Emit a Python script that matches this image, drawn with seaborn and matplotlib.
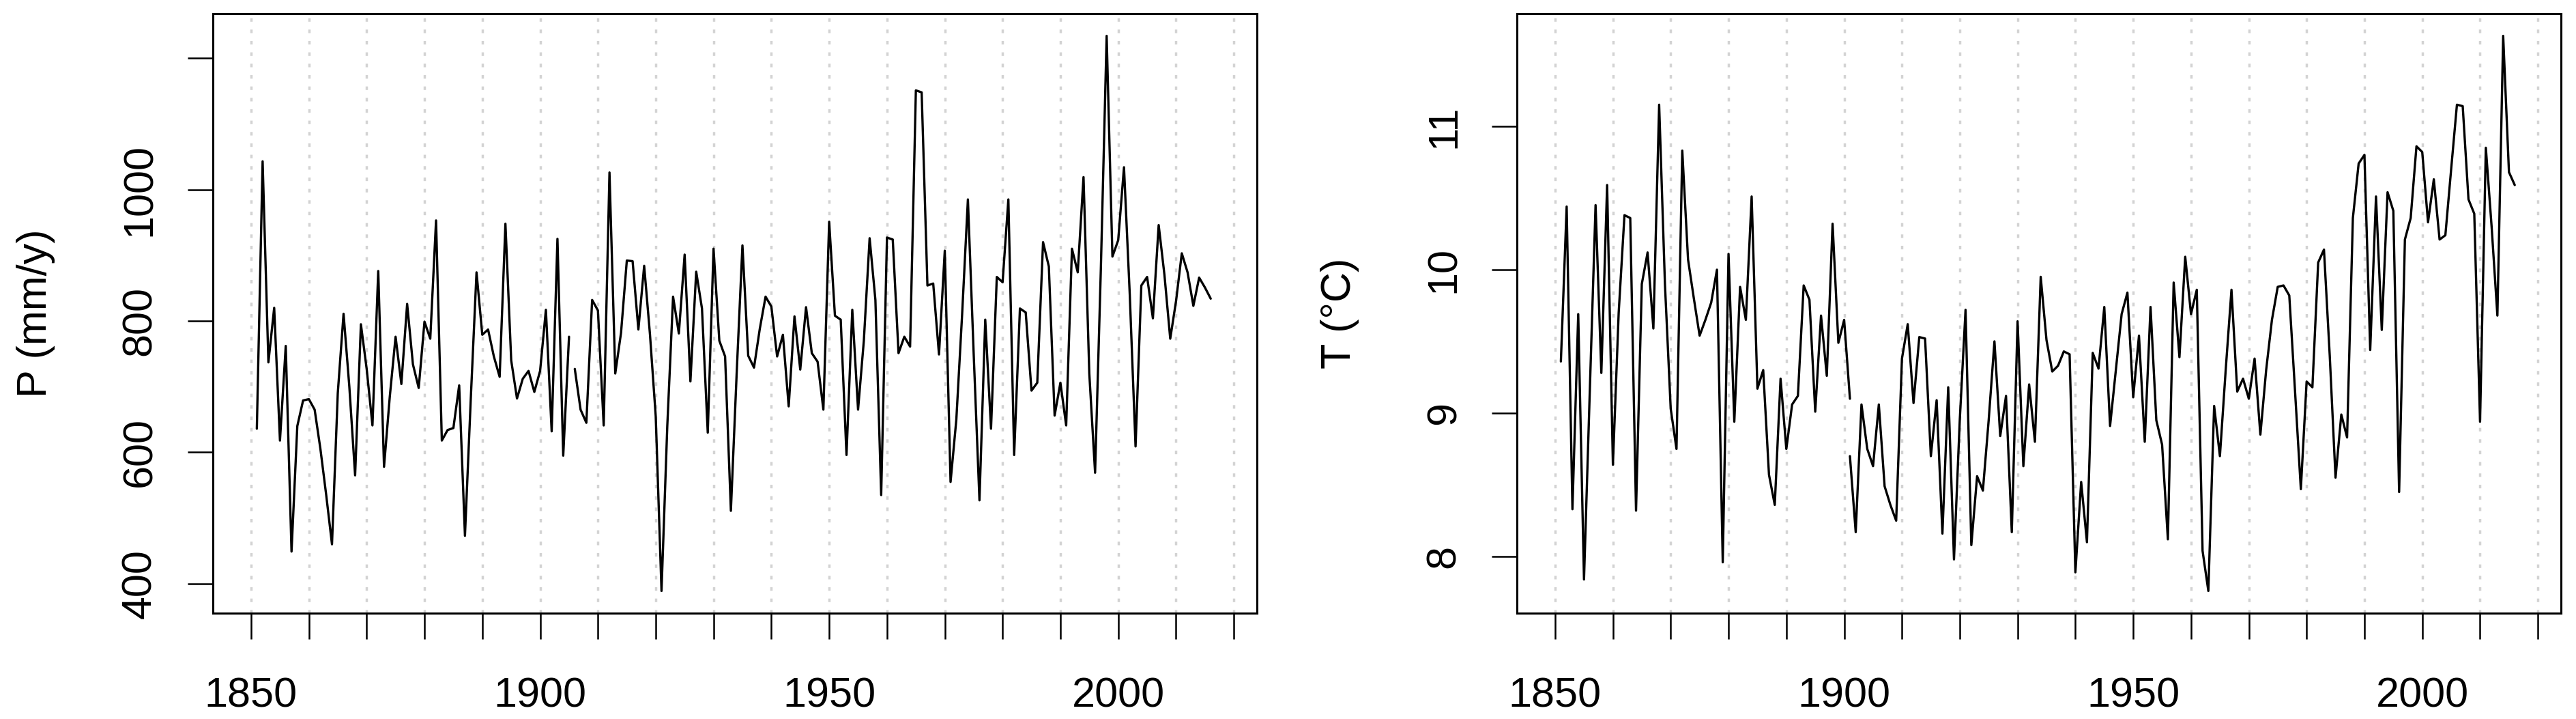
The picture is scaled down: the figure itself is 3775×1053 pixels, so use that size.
import pandas as pd
import matplotlib
matplotlib.use("Agg")
import matplotlib.pyplot as plt
import seaborn as sns

# annual precipitation (mm/y), two records: 1851-1905 and 1906-2016
p_years_a = list(range(1851, 1906))
p_vals_a = [636, 1043, 737, 820, 618, 762, 449, 640, 679, 681,
            665, 605, 535, 460, 690, 811, 700, 565, 795, 727,
            641, 876, 578, 685, 776, 704, 826, 734, 698, 799,
            773, 953, 618, 634, 637, 702, 473, 680, 874, 779,
            787, 746, 715, 948, 740, 682, 712, 724, 692, 724,
            817, 632, 925, 595, 776]
p_years_b = list(range(1906, 2017))
p_vals_b = [727, 665, 645, 832, 816, 641, 1026, 720, 782, 892,
            891, 787, 884, 780, 655, 389, 640, 837, 781, 901,
            708, 875, 819, 630, 910, 770, 746, 511, 720, 915,
            747, 729, 788, 837, 822, 746, 779, 670, 807, 726,
            821, 751, 738, 665, 951, 808, 802, 596, 817, 665,
            770, 926, 832, 535, 927, 924, 751, 776, 761, 1151,
            1148, 854, 857, 749, 907, 555, 650, 810, 985, 750,
            527, 802, 636, 867, 859, 985, 596, 819, 813, 694,
            706, 920, 883, 656, 706, 641, 910, 874, 1019, 720,
            569, 880, 1234, 898, 923, 1034, 840, 609, 854, 867,
            804, 946, 870, 773, 830, 903, 874, 823, 866, 851,
            834]

# annual mean temperature (deg C), two records: 1851-1901 and 1901-2016
t_years_a = list(range(1851, 1902))
t_vals_a = [9.36, 10.44, 8.33, 9.69, 7.84, 9.15, 10.45, 9.28, 10.59, 8.64,
            9.70, 10.38, 10.36, 8.32, 9.90, 10.12, 9.59, 11.15, 9.90, 9.03,
            8.75, 10.83, 10.07, 9.80, 9.54, 9.65, 9.77, 10.00, 7.96, 10.11,
            8.94, 9.88, 9.65, 10.51, 9.17, 9.30, 8.57, 8.36, 9.24, 8.75,
            9.06, 9.12, 9.89, 9.79, 9.01, 9.68, 9.26, 10.32, 9.49, 9.65,
            9.10]
t_years_b = list(range(1901, 2017))
t_vals_b = [8.70, 8.17, 9.06, 8.75, 8.63, 9.06, 8.49, 8.36, 8.25, 9.38,
            9.62, 9.07, 9.53, 9.52, 8.70, 9.09, 8.16, 9.18, 7.98, 8.95,
            9.72, 8.08, 8.56, 8.46, 8.95, 9.50, 8.84, 9.12, 8.17, 9.64,
            8.63, 9.20, 8.80, 9.95, 9.51, 9.29, 9.33, 9.43, 9.41, 7.89,
            8.52, 8.10, 9.42, 9.31, 9.74, 8.91, 9.30, 9.69, 9.84, 9.11,
            9.54, 8.80, 9.74, 8.95, 8.78, 8.12, 9.91, 9.39, 10.09, 9.69,
            9.86, 8.04, 7.76, 9.05, 8.70, 9.30, 9.86, 9.15, 9.24, 9.10,
            9.38, 8.85, 9.30, 9.65, 9.88, 9.89, 9.82, 9.15, 8.47, 9.22,
            9.18, 10.05, 10.14, 9.40, 8.55, 8.99, 8.83, 10.36, 10.74, 10.80,
            9.44, 10.51, 9.58, 10.54, 10.41, 8.45, 10.21, 10.36, 10.86, 10.82,
            10.33, 10.63, 10.21, 10.24, 10.70, 11.15, 11.14, 10.49, 10.39, 8.94,
            10.85, 10.30, 9.68, 11.63, 10.68, 10.59]

x_ticks = list(range(1850, 2021, 10))
x_labels = [str(y) if y % 50 == 0 else "" for y in x_ticks]
p_ticks = [400, 600, 800, 1000, 1200]
p_labels = ["400", "600", "800", "1000", ""]
t_ticks = [8, 9, 10, 11]
t_labels = ["8", "9", "10", "11"]

P = pd.DataFrame({
    "year": p_years_a + p_years_b,
    "value": p_vals_a + p_vals_b,
    "seg": [0] * len(p_years_a) + [1] * len(p_years_b),
})
T = pd.DataFrame({
    "year": t_years_a + t_years_b,
    "value": t_vals_a + t_vals_b,
    "seg": [0] * len(t_years_a) + [1] * len(t_years_b),
})

sns.set_theme(style="white")
plt.rcParams["font.family"] = ["Liberation Sans", "DejaVu Sans"]

W, H = 3775, 1053
fig = plt.figure(figsize=(W / 100, H / 100), dpi=100)
ax1 = fig.add_axes([312 / W, 1 - 898 / H, 1530 / W, 878 / H])
ax2 = fig.add_axes([2223 / W, 1 - 898 / H, 1530 / W, 878 / H])

FS = 44


def draw(ax, df, ylabel, yticks, ylabels):
    sns.lineplot(data=df, x="year", y="value", units="seg", estimator=None,
                 color="black", lw=2.4, ax=ax, zorder=3)
    ax.set_xlim(1843.4, 2024.0)
    lo, hi = df["value"].min(), df["value"].max()
    pad = (hi - lo) * 0.04
    ax.set_ylim(lo - pad, hi + pad)
    ax.set_xticks(x_ticks)
    ax.set_xticklabels(x_labels)
    ax.set_yticks(yticks)
    ax.set_yticklabels(ylabels)
    ax.grid(axis="x", color="#d3d3d3", linestyle=(0, (1.5, 3.3)), lw=2.5, zorder=0)
    ax.grid(axis="y", visible=False)
    for s in ax.spines.values():
        s.set_visible(True)
        s.set_color("black")
        s.set_linewidth(2.2)
    ax.tick_params(axis="both", direction="out", length=27, width=1.8,
                   color="black", labelsize=FS, labelcolor="black",
                   bottom=True, left=True, top=False, right=False)
    ax.tick_params(axis="x", pad=40)
    ax.tick_params(axis="y", pad=29)
    for lab in ax.get_yticklabels():
        lab.set_rotation(90)
        lab.set_va("center")
    ax.set_xlabel("")
    ax.set_ylabel(ylabel, fontsize=FS, color="black")
    ax.yaxis.set_label_coords(-0.151, 0.5)


draw(ax1, P, "P (mm/y)", p_ticks, p_labels)
draw(ax2, T, "T (°C)", t_ticks, t_labels)

fig.savefig("out.png", dpi=100)
